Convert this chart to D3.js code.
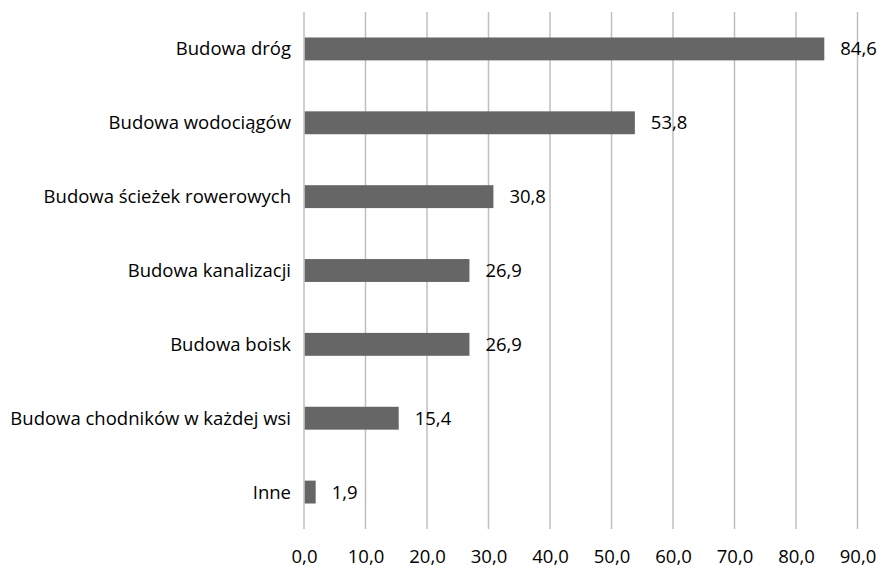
<!DOCTYPE html>
<html>
<head>
<meta charset="utf-8">
<script src="https://cdn.jsdelivr.net/npm/d3@7"></script>
<style>
  html, body { margin: 0; padding: 0; background: #fff; }
  svg { display: block; }
  text { font-family: "Open Sans", sans-serif; fill: #000; }
</style>
</head>
<body>
<svg id="chart" width="881" height="568"></svg>
<script>
// Categories and percentage values
const categories = [
  "Budowa dróg",
  "Budowa wodociągów",
  "Budowa ścieżek rowerowych",
  "Budowa kanalizacji",
  "Budowa boisk",
  "Budowa chodników w każdej wsi",
  "Inne"
];
const values = [84.6, 53.8, 30.8, 26.9, 26.9, 15.4, 1.9];
const tickValues = [0, 10, 20, 30, 40, 50, 60, 70, 80, 90];

const fmt = v => v.toFixed(1).replace(".", ",");
const FS = 18.5;

const svg = d3.select("#chart");
const margin = { top: 12, left: 304, bottom: 39 };
const W = 881, H = 568;

const x = d3.scaleLinear().domain([0, 90]).range([margin.left, 857.5]);
const y = d3.scaleBand().domain(categories)
  .range([margin.top, H - margin.bottom])
  .paddingInner(0.69).paddingOuter(0.345);

// vertical gridlines
svg.append("g").selectAll("line").data(tickValues).join("line")
  .attr("x1", d => x(d)).attr("x2", d => x(d))
  .attr("y1", margin.top).attr("y2", H - margin.bottom)
  .attr("stroke", "#bfbfbf").attr("stroke-width", 1.5);

// bars
svg.append("g").selectAll("rect").data(values).join("rect")
  .attr("x", x(0) + 0.75)
  .attr("y", (d, i) => y(categories[i]))
  .attr("width", d => x(d) - x(0) - 0.75)
  .attr("height", y.bandwidth())
  .attr("fill", "#666666");

// value labels
svg.append("g").selectAll("text").data(values).join("text")
  .attr("x", d => x(d) + 16)
  .attr("y", (d, i) => y(categories[i]) + y.bandwidth() / 2)
  .attr("dy", "0.35em")
  .attr("font-size", FS)
  .text(d => fmt(d));

// category axis labels
svg.append("g").selectAll("text").data(categories).join("text")
  .attr("x", 291)
  .attr("y", d => y(d) + y.bandwidth() / 2)
  .attr("dy", "0.35em")
  .attr("text-anchor", "end")
  .attr("font-size", FS)
  .text(d => d);

// value axis tick labels
const xAxis = d3.axisBottom(x).tickValues(tickValues).tickFormat(fmt).tickSize(0).tickPadding(0);
const ax = svg.append("g").attr("transform", `translate(0,${H - margin.bottom})`).call(xAxis);
ax.select(".domain").remove();
ax.selectAll("text")
  .attr("y", 33.5).attr("dy", 0)
  .attr("font-size", FS)
  .attr("font-family", "Open Sans, sans-serif")
  .attr("fill", "#000");
</script>
</body>
</html>
